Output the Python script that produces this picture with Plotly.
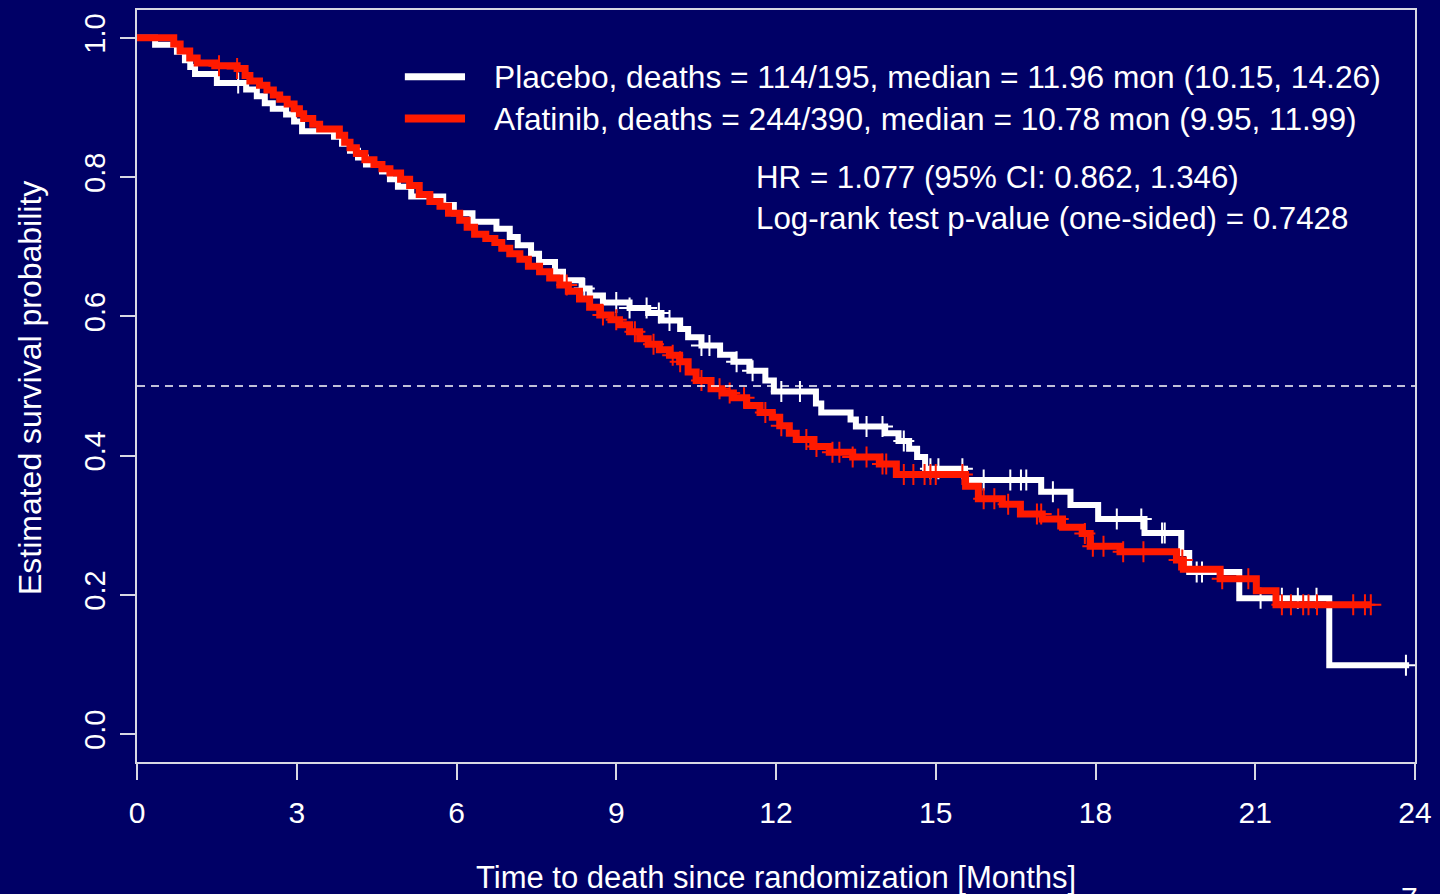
import plotly.graph_objects as go

# ---------------- data ----------------
placebo_times = [0.34, 0.75, 0.90, 1.00, 1.09, 1.50, 2.05, 2.25, 2.40, 2.55, 2.80, 2.95, 3.10,
                 3.70, 3.85, 4.00, 4.15, 4.30, 4.60, 4.75, 4.90, 5.15, 5.75, 5.95, 6.30, 6.75,
                 7.00, 7.15, 7.40, 7.55, 7.85, 8.00, 8.35, 8.50, 8.75, 9.25, 9.60, 9.85, 10.20,
                 10.35, 10.60, 10.95, 11.20, 11.50, 11.80, 11.96, 12.75, 12.85, 13.40, 13.50,
                 14.05, 14.30, 14.50, 14.65, 14.80, 15.55, 16.98, 17.53, 18.05, 18.92, 19.61,
                 19.76, 20.70, 22.39]
placebo_surv = [0.990, 0.980, 0.968, 0.958, 0.948, 0.935, 0.926, 0.916, 0.906, 0.898, 0.890, 0.880,
                0.866, 0.858, 0.848, 0.838, 0.828, 0.818, 0.808, 0.797, 0.786, 0.772, 0.760, 0.748,
                0.736, 0.726, 0.714, 0.702, 0.690, 0.678, 0.664, 0.652, 0.640, 0.630, 0.620, 0.612,
                0.605, 0.594, 0.582, 0.570, 0.558, 0.545, 0.535, 0.522, 0.508, 0.492, 0.475, 0.462,
                0.452, 0.442, 0.432, 0.421, 0.410, 0.398, 0.381, 0.365, 0.348, 0.329, 0.309, 0.289,
                0.260, 0.233, 0.195, 0.099]
placebo_end = 23.89
placebo_censor = [1.90, 8.40, 9.00, 9.25, 9.57, 9.80, 10.00, 10.60, 10.75, 11.26, 11.56, 12.10,
                  12.45, 13.70, 14.00, 14.40, 14.90, 15.05, 15.50, 15.90, 16.40, 16.60, 16.70,
                  17.20, 18.40, 18.86, 19.25, 19.30, 19.90, 20.00, 21.10, 21.50, 21.80, 22.15, 23.83]

afatinib_times = [0.69, 0.81, 0.99, 1.13, 1.46, 1.88, 2.03, 2.12, 2.30, 2.44, 2.56, 2.68, 2.82,
                  2.95, 3.05, 3.13, 3.30, 3.43, 3.80, 3.90, 4.00, 4.12, 4.28, 4.45, 4.60, 4.75,
                  4.95, 5.12, 5.30, 5.50, 5.69, 5.85, 6.06, 6.20, 6.34, 6.55, 6.72, 6.85, 7.00,
                  7.19, 7.35, 7.56, 7.75, 7.94, 8.10, 8.31, 8.50, 8.69, 8.90, 9.06, 9.25, 9.44,
                  9.60, 9.81, 10.00, 10.19, 10.35, 10.50, 10.78, 10.99, 11.20, 11.45, 11.70,
                  11.93, 12.07, 12.25, 12.38, 12.69, 13.00, 13.44, 13.94, 14.26, 15.56, 15.80,
                  16.25, 16.59, 17.00, 17.38, 17.75, 17.90, 18.46, 19.52, 19.65, 20.34, 21.02,
                  21.39]
afatinib_surv = [0.991, 0.981, 0.971, 0.964, 0.960, 0.956, 0.946, 0.938, 0.932, 0.925, 0.918,
                 0.912, 0.905, 0.898, 0.891, 0.884, 0.876, 0.869, 0.860, 0.850, 0.842, 0.834,
                 0.825, 0.818, 0.812, 0.806, 0.797, 0.788, 0.775, 0.765, 0.758, 0.748, 0.738,
                 0.728, 0.718, 0.712, 0.706, 0.698, 0.690, 0.682, 0.672, 0.664, 0.655, 0.645,
                 0.636, 0.625, 0.613, 0.602, 0.595, 0.588, 0.578, 0.568, 0.560, 0.552, 0.544,
                 0.535, 0.520, 0.508, 0.496, 0.490, 0.483, 0.472, 0.462, 0.455, 0.443, 0.432,
                 0.423, 0.413, 0.405, 0.398, 0.388, 0.373, 0.356, 0.338, 0.330, 0.316, 0.309,
                 0.297, 0.288, 0.270, 0.262, 0.250, 0.237, 0.223, 0.206, 0.186]
afatinib_end = 23.17
afatinib_censor = [1.54, 1.88, 8.07, 8.75, 9.00, 9.35, 9.70, 10.06, 10.20, 10.60, 10.94, 11.13,
                   11.40, 11.80, 12.10, 12.57, 12.76, 13.06, 13.19, 13.44, 13.70, 14.00, 14.07,
                   14.40, 14.58, 14.79, 14.90, 15.00, 15.50, 15.90, 16.10, 16.36, 16.90, 16.98,
                   17.30, 17.80, 17.95, 18.15, 18.52, 18.90, 19.57, 19.63, 20.38, 20.87, 21.50,
                   21.67, 21.90, 22.00, 22.16, 22.84, 23.06, 23.17]

x_ticks = [0, 3, 6, 9, 12, 15, 18, 21, 24]
y_ticks = [0.0, 0.2, 0.4, 0.6, 0.8, 1.0]
y_tick_labels = ["0.0", "0.2", "0.4", "0.6", "0.8", "1.0"]

legend_labels = ["Placebo, deaths = 114/195, median = 11.96 mon (10.15, 14.26)",
                 "Afatinib, deaths = 244/390, median = 10.78 mon (9.95, 11.99)"]
stats_lines = ["HR = 1.077 (95% CI: 0.862, 1.346)",
               "Log-rank test p-value (one-sided) = 0.7428"]
x_title = "Time to death since randomization [Months]"
y_title = "Estimated survival probability"

# ---------------- styling ----------------
BG = "#000066"
AX = "#d8d8e4"
WHITE = "#ffffff"
RED = "#ff1a00"
FONT = "Liberation Sans, Arial, sans-serif"


def surv_at(times, survs, t):
    s = 1.0
    for ti, si in zip(times, survs):
        if ti <= t:
            s = si
        else:
            break
    return s


def curve(times, survs, end):
    xs = [0.0] + list(times) + [end]
    ys = [1.0] + list(survs) + [survs[-1]]
    return xs, ys


fig = go.Figure()

for times, survs, end, cens, col, w in [
    (placebo_times, placebo_surv, placebo_end, placebo_censor, WHITE, 6),
    (afatinib_times, afatinib_surv, afatinib_end, afatinib_censor, RED, 7),
]:
    xs, ys = curve(times, survs, end)
    fig.add_trace(go.Scatter(x=xs, y=ys, mode="lines", line=dict(color=col, width=w, shape="hv"),
                             showlegend=False, hoverinfo="skip"))
    fig.add_trace(go.Scatter(x=cens, y=[surv_at(times, survs, c) for c in cens], mode="markers",
                             marker=dict(symbol="cross-thin", size=15,
                                         line=dict(color=col, width=2)),
                             showlegend=False, hoverinfo="skip"))

# median reference line
fig.add_shape(type="line", xref="paper", x0=0, x1=1, yref="y", y0=0.5, y1=0.5,
              line=dict(color=WHITE, width=1.5, dash="8px,6px"))

# legend (R style, placed in user coordinates)
leg_y = [0.944, 0.884]
for lab, yy, col, w in zip(legend_labels, leg_y, [WHITE, RED], [7, 8]):
    fig.add_shape(type="line", xref="x", yref="y", x0=5.03, x1=6.16, y0=yy, y1=yy,
                  line=dict(color=col, width=w))
    fig.add_annotation(x=6.66, y=yy, xref="x", yref="y", text=lab, showarrow=False,
                       xanchor="left", yanchor="middle",
                       font=dict(family=FONT, size=31.7, color=WHITE))
for lab, yy in zip(stats_lines, [0.799, 0.740]):
    fig.add_annotation(x=11.58, y=yy, xref="x", yref="y", text=lab, showarrow=False,
                       xanchor="left", yanchor="middle",
                       font=dict(family=FONT, size=31.3, color=WHITE))

# axis titles
fig.add_annotation(x=0.5, y=(762 - 878) / 754, xref="paper", yref="paper", text=x_title,
                   showarrow=False, xanchor="center", yanchor="middle",
                   font=dict(family=FONT, size=31, color=WHITE))
fig.add_annotation(x=(30 - 137) / 1279, y=(762 - 387) / 754, xref="paper", yref="paper",
                   text=y_title, showarrow=False, textangle=-90, xanchor="center",
                   yanchor="middle", font=dict(family=FONT, size=32, color=WHITE))
# slide page number peeking at the bottom edge
fig.add_annotation(x=(1410 - 137) / 1279, y=(762 - 879) / 754, xref="paper", yref="paper",
                   text="7", showarrow=False, xanchor="center", yanchor="top",
                   font=dict(family=FONT, size=30, color=WHITE))

fig.update_layout(
    width=1440, height=894,
    margin=dict(l=137, r=24, t=8, b=132),
    paper_bgcolor=BG, plot_bgcolor=BG,
    showlegend=False,
    font=dict(family=FONT, color=WHITE),
    xaxis=dict(range=[0, 24], tickvals=x_ticks, ticktext=[str(v) for v in x_ticks],
               showgrid=False, zeroline=False, showline=True, mirror=True, linecolor=AX,
               linewidth=2, ticks="outside", ticklen=16, tickwidth=1.5, tickcolor=AX,
               tickfont=dict(family=FONT, size=30, color=WHITE), ticklabelstandoff=7),
    yaxis=dict(range=[-0.04, 1.04], tickvals=y_ticks, ticktext=y_tick_labels,
               showgrid=False, zeroline=False, showline=True, mirror=True, linecolor=AX,
               linewidth=2, ticks="outside", ticklen=15, tickwidth=1.5, tickcolor=AX,
               tickangle=-90, tickfont=dict(family=FONT, size=29, color=WHITE),
               ticklabelstandoff=3),
)

fig.write_html(
    "out.html",
    config={"displayModeBar": False},
    post_script="document.body.style.margin='0';document.body.style.background='#000066';"
                "document.body.style.overflow='hidden';",
)
